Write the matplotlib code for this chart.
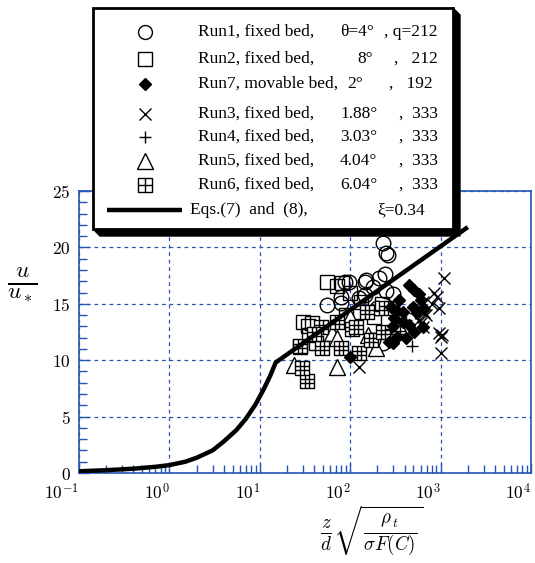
import matplotlib
matplotlib.use("Agg")
import matplotlib.pyplot as plt
from matplotlib.path import Path
from matplotlib.patches import Polygon, Rectangle
import numpy as np

plt.rcParams["mathtext.fontset"] = "cm"

# ---- data -------------------------------------------------------------
run1_x = [229, 263, 251, 98, 145, 151, 178, 209, 240, 56, 79, 79, 87, 145, 251, 295, 178, 229, 126, 200]
run1_y = [20.4, 19.3, 19.5, 16.9, 16.9, 17.1, 16.5, 17.3, 17.6, 14.9, 15.6, 15.1, 16.9, 15.8, 16.1, 15.9, 11.8, 11.5, 15.5, 14.6]

run2_x = [56, 81, 38, 34, 28, 100, 35, 89, 132, 182, 42, 112, 71, 224, 30]
run2_y = [16.9, 16.8, 13.3, 13.0, 11.2, 16.0, 12.2, 14.0, 15.2, 13.8, 11.5, 13.0, 16.6, 15.0, 13.4]

run7_x = [447, 513, 575, 603, 490, 380, 550, 661, 631, 513, 417, 331, 269, 309, 380, 447, 347, 331, 295, 282, 100, 295]
run7_y = [16.7, 16.2, 15.9, 15.3, 14.7, 14.3, 14.2, 14.5, 12.9, 12.5, 12.0, 12.1, 11.6, 13.7, 13.4, 13.1, 15.3, 14.4, 13.0, 14.7, 10.3, 11.5]

run3_x = [1096, 851, 912, 955, 955, 1000, 1047, 1000, 126, 631, 661, 575, 631, 692, 603, 794]
run3_y = [17.3, 16.0, 15.6, 14.6, 12.4, 12.1, 12.2, 10.6, 9.4, 15.2, 14.3, 13.6, 12.9, 14.0, 13.3, 15.0]

run4_x = [479, 355, 417, 525, 282]
run4_y = [11.3, 12.6, 13.6, 14.2, 12.8]

run5_x = [72, 24, 347, 195, 63, 72, 158, 100]
run5_y = [9.4, 9.6, 13.0, 11.1, 12.4, 12.0, 12.2, 13.8]

run6_x = [33, 29, 28, 48, 49, 79, 71, 105, 126, 155, 170, 251, 229, 117, 40]
run6_y = [8.2, 9.3, 11.3, 12.9, 11.1, 11.1, 13.4, 12.8, 10.6, 14.3, 11.8, 14.6, 12.5, 12.9, 12.3]

# Eqs. (7) and (8), xi = 0.34
curve_x = [0.1, 0.2, 0.4, 0.7, 1.0, 1.5, 2.0, 3.0, 4.0, 5.5, 7.0, 9.0, 11.0, 13.0, 15.0, 2000]
curve_y = [0.15, 0.25, 0.38, 0.55, 0.7, 1.0, 1.35, 2.0, 2.8, 3.8, 4.8, 6.1, 7.4, 8.6, 9.8, 21.8]

x_ticks = [0.1, 1, 10, 100, 1000, 10000]
x_tick_labels = [r"$10^{-1}$", r"$10^{0}$", r"$10^{1}$", r"$10^{2}$", r"$10^{3}$", r"$10^{4}$"]
y_ticks = [0, 5, 10, 15, 20, 25]

legend_labels = ["Run1, fixed bed,", "Run2, fixed bed,", "Run7, movable bed,",
                 "Run3, fixed bed,", "Run4, fixed bed,", "Run5, fixed bed,", "Run6, fixed bed,"]
legend_angles = ["θ=4°", "8°", "2°", "1.88°", "3.03°", "4.04°", "6.04°"]
legend_tails = [", q=212", ",   212", ",   192", ",  333", ",  333", ",  333", ",  333"]
legend_eq = "Eqs.(7)  and  (8),"
legend_xi = "ξ=0.34"

# ---- marker for the gridded square -------------------------------------
g = 1.0 / 3.0
grid_verts = [(-1, -1), (1, -1), (1, 1), (-1, 1), (-1, -1),
              (-g, -1), (-g, 1), (g, -1), (g, 1),
              (-1, -g), (1, -g), (-1, g), (1, g)]
grid_codes = [Path.MOVETO, Path.LINETO, Path.LINETO, Path.LINETO, Path.CLOSEPOLY,
              Path.MOVETO, Path.LINETO, Path.MOVETO, Path.LINETO,
              Path.MOVETO, Path.LINETO, Path.MOVETO, Path.LINETO]
grid_marker = Path(grid_verts, grid_codes)

legend_grid_verts = [(-1, -1), (1, -1), (1, 1), (-1, 1), (-1, -1),
                     (0, -1), (0, 1), (-1, 0), (1, 0)]
legend_grid_codes = [Path.MOVETO, Path.LINETO, Path.LINETO, Path.LINETO, Path.CLOSEPOLY,
                     Path.MOVETO, Path.LINETO, Path.MOVETO, Path.LINETO]
legend_grid_marker = Path(legend_grid_verts, legend_grid_codes)

blue = "#2456b4"

W, H = 535, 563
fig = plt.figure(figsize=(W / 100, H / 100), dpi=100)
ax = fig.add_axes([79 / W, 1 - 473 / H, (531 - 79) / W, (473 - 191) / H])

mk = dict(linestyle="none", markeredgecolor="black", markeredgewidth=1.0)
ax.plot(run1_x, run1_y, marker="o", markersize=10.5, markerfacecolor="none", zorder=3, **mk)
ax.plot(run2_x, run2_y, marker="s", markersize=10.5, markerfacecolor="none", zorder=3, **mk)
ax.plot(run5_x, run5_y, marker="^", markersize=11, markerfacecolor="white", zorder=3, **mk)
ax.plot(run6_x, run6_y, marker=grid_marker, markersize=10.5, markerfacecolor="white", zorder=4, **mk)
ax.plot(run7_x, run7_y, marker="D", markersize=6.5, markerfacecolor="black", zorder=5, **mk)
ax.plot(run3_x, run3_y, marker="x", markersize=9, zorder=5, **mk)
ax.plot(run4_x, run4_y, marker="+", markersize=9, zorder=5, **mk)
ax.plot(curve_x, curve_y, color="black", linewidth=3.2, solid_capstyle="butt", zorder=6)

ax.set_xscale("log")
ax.set_xlim(0.1, 10000)
ax.set_ylim(0, 25)
ax.set_xticks(x_ticks)
ax.set_xticklabels(x_tick_labels, fontsize=12.5, ha="right")
ax.set_yticks(y_ticks)
ax.set_yticklabels([f"${v}$" for v in y_ticks], fontsize=12.5)
ax.set_yticks(np.arange(0, 26, 1), minor=True)
ax.xaxis.set_minor_locator(matplotlib.ticker.LogLocator(base=10, subs=np.arange(2, 10)))
ax.xaxis.set_minor_formatter(matplotlib.ticker.NullFormatter())

ax.tick_params(which="both", direction="in", color=blue, width=1.0,
               top=False, right=False)
ax.tick_params(which="major", length=7)
ax.tick_params(which="minor", length=6)
ax.tick_params(axis="x", pad=7)
ax.tick_params(axis="y", pad=6)
for s in ax.spines.values():
    s.set_color(blue)
    s.set_linewidth(1.2)
ax.grid(True, which="major", color=blue, linestyle=(0, (3, 3)), linewidth=0.9)
ax.set_axisbelow(False)

# axis titles
fig.text(22 / W, 1 - 285 / H, r"$\frac{u}{u_*}$", fontsize=24, ha="center", va="center")
fig.text(372 / W, 1 - 531 / H, r"$\frac{z}{d}\sqrt{\frac{\rho_{\,t}}{\sigma F(C)}}$",
         fontsize=19.5, ha="center", va="center")

# ---- legend box (drawn in pixel coordinates) ----------------------------
ov = fig.add_axes([0, 0, 1, 1])
ov.set_xlim(0, W)
ov.set_ylim(H, 0)
ov.axis("off")
ov.patch.set_visible(False)

x0, y0, x1, y1 = 93, 8, 453, 229
sh = 7
ov.add_patch(Polygon([(x0, y1), (x0 + sh, y1 + sh), (x1 + sh, y1 + sh),
                      (x1 + sh, y0 + sh), (x1, y0)], closed=True,
                     facecolor="black", edgecolor="black", zorder=1))
ov.add_patch(Rectangle((x0, y0), x1 - x0, y1 - y0, facecolor="white",
                       edgecolor="black", linewidth=2.0, zorder=2))

row_y = [32, 59, 84, 114, 137, 161, 185]
angle_x = [340, 357, 347, 340, 340, 340, 340]
tail_x = [438, 438, 433, 438, 438, 438, 438]
leg_markers = [
    dict(marker="o", markersize=10, markerfacecolor="none"),
    dict(marker="s", markersize=10, markerfacecolor="none"),
    dict(marker="D", markersize=6, markerfacecolor="black"),
    dict(marker="x", markersize=8),
    dict(marker="+", markersize=9),
    dict(marker="^", markersize=11, markerfacecolor="none"),
    dict(marker=legend_grid_marker, markersize=10, markerfacecolor="none"),
]
txt = dict(fontsize=12.5, family="Liberation Serif", va="center", zorder=3)
for i in range(7):
    ov.plot([145], [row_y[i]], linestyle="none", markeredgecolor="black",
            markeredgewidth=1.0, zorder=3, **leg_markers[i])
    ov.text(198, row_y[i], legend_labels[i], ha="left", **txt)
    ov.text(angle_x[i], row_y[i], legend_angles[i], ha="left", **txt)
    ov.text(tail_x[i], row_y[i], legend_tails[i], ha="right", **txt)

ov.plot([107, 182], [210, 210], color="black", linewidth=3.2, solid_capstyle="butt", zorder=3)
ov.text(190, 210, legend_eq, ha="left", **txt)
ov.text(377, 210, legend_xi, ha="left", **txt)

fig.savefig("out.png", dpi=100)
